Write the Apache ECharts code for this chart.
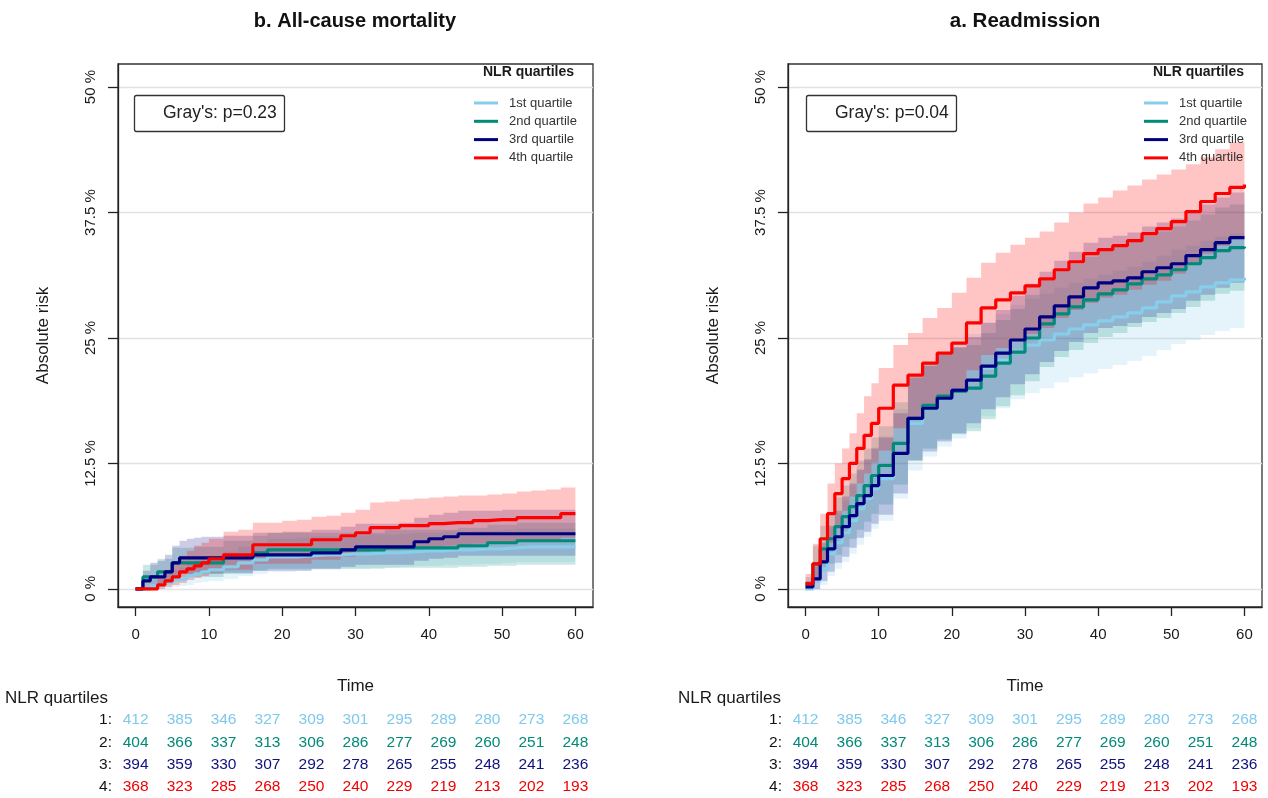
<!DOCTYPE html>
<html>
<head>
<meta charset="utf-8">
<title>NLR quartiles cumulative incidence</title>
<script src="https://cdn.jsdelivr.net/npm/echarts@6/dist/echarts.min.js"></script>
<style>
  html, body { margin: 0; padding: 0; background: #fff; }
  #chart { width: 1268px; height: 798px; }
</style>
</head>
<body>
<div id="chart"></div>
<script>
// time grid (months) shared by every curve
const T = [0, 1, 2, 3, 4, 5, 6, 7, 8, 9, 10, 12, 14, 16, 18, 20, 22, 24, 26, 28, 30, 32, 34, 36, 38, 40, 42, 44, 46, 48, 50, 52, 54, 56, 58, 60];

// b. All-cause mortality (%)
const mortQ1 = [0, 0, 0.3, 0.4, 0.6, 0.9, 1.0, 1.3, 1.5, 1.7, 1.9, 2.2, 2.6, 2.9, 3.2, 3.2, 3.3, 3.4, 3.4, 3.5, 3.5, 3.6, 3.6, 3.7, 3.8, 3.8, 3.9, 3.9, 4.0, 4.0, 4.1, 4.2, 4.2, 4.2, 4.2, 4.2];
const mortQ1Hi = [0, 0, 0.9, 1.1, 1.5, 1.9, 2.1, 2.5, 2.8, 3.0, 3.3, 3.7, 4.2, 4.6, 5.0, 5.0, 5.1, 5.2, 5.2, 5.3, 5.3, 5.4, 5.4, 5.5, 5.6, 5.6, 5.7, 5.7, 5.8, 5.8, 5.9, 6.0, 6.0, 6.0, 6.0, 6.0];
const mortQ1Lo = [0, 0, 0, 0, 0, 0.2, 0.3, 0.4, 0.6, 0.7, 0.8, 1.0, 1.3, 1.5, 1.7, 1.7, 1.8, 1.9, 1.9, 2.0, 2.0, 2.1, 2.1, 2.2, 2.3, 2.3, 2.4, 2.4, 2.5, 2.5, 2.6, 2.7, 2.7, 2.7, 2.7, 2.7];
const mortQ2 = [0, 1.2, 1.2, 1.7, 1.7, 2.6, 2.6, 2.6, 2.6, 2.6, 2.6, 3.2, 3.2, 3.6, 3.9, 3.9, 3.9, 3.9, 3.9, 3.9, 3.9, 3.9, 4.1, 4.1, 4.1, 4.1, 4.1, 4.3, 4.3, 4.6, 4.6, 4.8, 4.8, 4.8, 4.8, 4.8];
const mortQ2Hi = [0, 2.4, 2.4, 3.0, 3.0, 4.1, 4.1, 4.1, 4.2, 4.2, 4.2, 4.8, 4.8, 5.3, 5.6, 5.6, 5.6, 5.6, 5.6, 5.6, 5.6, 5.6, 5.9, 5.9, 5.9, 5.9, 5.9, 6.1, 6.1, 6.4, 6.4, 6.6, 6.6, 6.6, 6.6, 6.6];
const mortQ2Lo = [0, 0.2, 0.2, 0.6, 0.6, 1.2, 1.2, 1.2, 1.2, 1.2, 1.2, 1.5, 1.5, 1.8, 2.0, 2.0, 2.0, 2.0, 2.0, 2.0, 2.0, 2.0, 2.1, 2.1, 2.1, 2.1, 2.1, 2.2, 2.2, 2.3, 2.3, 2.4, 2.4, 2.4, 2.4, 2.4];
const mortQ3 = [0, 0.8, 1.2, 1.2, 1.7, 2.6, 3.1, 3.1, 3.1, 3.1, 3.1, 3.1, 3.1, 3.4, 3.4, 3.4, 3.4, 3.6, 3.6, 3.9, 4.2, 4.2, 4.2, 4.2, 4.7, 5.0, 5.2, 5.5, 5.5, 5.5, 5.5, 5.5, 5.5, 5.5, 5.5, 5.5];
const mortQ3Hi = [0, 1.8, 2.6, 2.8, 3.4, 4.3, 4.8, 5.0, 5.1, 5.2, 5.2, 5.3, 5.3, 5.6, 5.6, 5.7, 5.7, 5.9, 5.9, 6.2, 6.5, 6.5, 6.5, 6.6, 7.1, 7.4, 7.6, 7.8, 7.8, 7.8, 7.9, 7.9, 7.9, 7.9, 7.9, 7.9];
const mortQ3Lo = [0, 0, 0.3, 0.3, 0.6, 1.2, 1.5, 1.5, 1.5, 1.5, 1.5, 1.6, 1.6, 1.8, 1.8, 1.8, 1.8, 2.0, 2.0, 2.2, 2.4, 2.4, 2.4, 2.4, 2.8, 3.0, 3.1, 3.3, 3.3, 3.3, 3.3, 3.3, 3.3, 3.3, 3.3, 3.3];
const mortQ4 = [0, 0, 0, 0.4, 0.8, 1.2, 1.7, 2.0, 2.3, 2.6, 3.0, 3.4, 3.4, 4.4, 4.4, 4.4, 4.4, 4.9, 4.9, 5.3, 5.6, 6.1, 6.1, 6.3, 6.3, 6.5, 6.6, 6.6, 6.8, 6.9, 6.9, 7.1, 7.1, 7.1, 7.5, 7.5];
const mortQ4Hi = [0, 0, 0.3, 1.2, 1.9, 2.6, 3.3, 3.8, 4.3, 4.6, 5.0, 5.7, 5.9, 6.6, 6.6, 6.8, 6.9, 7.2, 7.3, 7.6, 7.9, 8.6, 8.7, 8.9, 9.0, 9.1, 9.2, 9.3, 9.3, 9.4, 9.5, 9.7, 9.8, 9.9, 10.1, 10.1];
const mortQ4Lo = [0, 0, 0, 0, 0.2, 0.4, 0.6, 0.9, 1.1, 1.3, 1.6, 1.9, 1.9, 2.5, 2.5, 2.5, 2.5, 2.9, 2.9, 3.2, 3.4, 3.9, 3.9, 4.0, 4.0, 4.2, 4.3, 4.3, 4.5, 4.6, 4.6, 4.7, 4.7, 4.7, 5.1, 5.1];

// a. Readmission (%)
const readQ1 = [0, 0.8, 2, 3.5, 4.6, 5.6, 6.8, 8, 9, 10, 11, 13.5, 16.5, 18, 19, 19.8, 20.8, 22, 22.8, 23.7, 24.3, 24.8, 25.4, 25.9, 26.3, 26.7, 27.1, 27.5, 28, 28.6, 29.2, 29.6, 30.1, 30.5, 30.8, 31];
const readQ1Hi = [0.3, 2.2, 4, 6, 7.5, 8.8, 10.3, 11.8, 12.9, 14.1, 15.2, 17.9, 21, 22.6, 23.6, 24.4, 25.4, 26.6, 27.4, 28.3, 28.9, 29.4, 30, 30.5, 30.9, 31.3, 31.7, 32.1, 32.6, 33.2, 33.8, 34.2, 34.7, 35.1, 35.4, 35.6];
const readQ1Lo = [0, 0, 0.4, 1.3, 2, 2.7, 3.5, 4.4, 5.2, 6, 6.8, 9, 11.8, 13.2, 14.2, 15, 16, 17.2, 18, 18.9, 19.5, 20, 20.6, 21.1, 21.5, 21.9, 22.3, 22.7, 23.2, 23.8, 24.4, 24.8, 25.3, 25.7, 26, 26.4];
const readQ2 = [0.5, 2.5, 4, 5, 6.2, 7.2, 8.2, 9.3, 10.3, 11.3, 12.3, 14.5, 17, 18.3, 19.2, 19.7, 20, 21.2, 22.5, 23.6, 25, 26.4, 27.4, 28.1, 28.8, 29.4, 29.8, 30.4, 30.9, 31.3, 31.8, 32.4, 33, 33.7, 34, 34.1];
const readQ2Hi = [1.2, 4.3, 6.3, 7.6, 9.1, 10.3, 11.5, 12.8, 14, 15.1, 16.2, 18.6, 21.2, 22.6, 23.5, 24, 24.3, 25.5, 26.8, 27.9, 29.3, 30.7, 31.7, 32.4, 33.1, 33.7, 34.1, 34.7, 35.2, 35.6, 36.1, 36.7, 37.3, 38, 38.3, 38.4];
const readQ2Lo = [0, 0.8, 1.8, 2.5, 3.4, 4.2, 5, 5.9, 6.7, 7.5, 8.4, 10.4, 12.8, 14, 14.9, 15.4, 15.7, 16.9, 18.2, 19.3, 20.7, 22.1, 23.1, 23.8, 24.5, 25.1, 25.5, 26.1, 26.6, 27, 27.5, 28.1, 28.7, 29.4, 29.7, 29.8];
const readQ3 = [0.2, 1, 2.7, 4, 5.2, 6.2, 7.3, 8.5, 9.3, 10.3, 11.3, 13.5, 17, 18, 19, 19.8, 20.8, 22.2, 23.5, 24.8, 25.9, 27.1, 28.2, 29.1, 30, 30.5, 30.7, 31, 31.6, 32, 32.4, 33.2, 33.8, 34.5, 35, 35];
const readQ3Hi = [0.8, 2.5, 4.6, 6.3, 7.8, 9.2, 10.5, 11.9, 12.9, 14, 15.1, 17.5, 21.1, 22.2, 23.3, 24.1, 25.1, 26.5, 27.8, 29.2, 30.4, 31.6, 32.7, 33.6, 34.5, 35, 35.2, 35.5, 36.1, 36.5, 36.9, 37.7, 38.3, 39, 39.5, 39.5];
const readQ3Lo = [0, 0, 0.8, 1.7, 2.6, 3.2, 4.1, 5.1, 5.7, 6.5, 7.4, 9.5, 12.8, 13.7, 14.7, 15.5, 16.5, 17.9, 19.1, 20.4, 21.4, 22.6, 23.7, 24.6, 25.5, 26, 26.2, 26.5, 27.1, 27.5, 27.9, 28.7, 29.3, 30, 30.5, 30.5];
const readQ4 = [0.5, 2.5, 5, 7.5, 9.5, 11, 12.5, 14, 15.3, 16.5, 18, 20.3, 21.3, 22.5, 23.5, 24.5, 26.5, 28, 28.8, 29.5, 30.2, 30.9, 31.8, 32.6, 33.4, 33.8, 34.2, 34.7, 35.4, 35.9, 36.6, 37.6, 38.6, 39.4, 40, 40.3];
const readQ4Hi = [1.5, 4.5, 7.5, 10.5, 12.5, 14, 15.5, 17.5, 19.2, 20.5, 22, 24.3, 25.5, 27, 28, 29.5, 31, 32.5, 33.5, 34.3, 35, 35.6, 36.5, 37.5, 38.4, 39, 39.7, 40.2, 40.8, 41.3, 41.8, 42.3, 43, 43.8, 44.5, 45.2];
const readQ4Lo = [0, 1, 2.8, 4.6, 6.3, 7.8, 9.2, 10.5, 11.5, 12.6, 13.8, 16, 17, 18, 19.1, 20, 21.8, 23.3, 24, 24.7, 25.4, 26, 27, 27.8, 28.5, 29, 29.3, 29.8, 30.3, 30.7, 31.4, 32.4, 33.4, 34.2, 35, 35.4];

// numbers at risk
const tableTimes = [0, 6, 12, 18, 24, 30, 36, 42, 48, 54, 60];
const riskQ1 = [412, 385, 346, 327, 309, 301, 295, 289, 280, 273, 268];
const riskQ2 = [404, 366, 337, 313, 306, 286, 277, 269, 260, 251, 248];
const riskQ3 = [394, 359, 330, 307, 292, 278, 265, 255, 248, 241, 236];
const riskQ4 = [368, 323, 285, 268, 250, 240, 229, 219, 213, 202, 193];
const rowLabels = ['1:', '2:', '3:', '4:'];

const xTicks = [0, 10, 20, 30, 40, 50, 60];
const yTicks = [0, 12.5, 25, 37.5, 50];

const quartileNames = ['1st quartile', '2nd quartile', '3rd quartile', '4th quartile'];
const quartileColors = ['#87CEEB', '#008B7A', '#000080', '#FF0000'];
const bandColors = ['rgba(135,206,235,0.22)', 'rgba(0,139,122,0.2)', 'rgba(0,0,128,0.2)', 'rgba(255,0,0,0.23)'];
const tableColors = ['#7fc9ea', '#008a78', '#10107e', '#f00000'];
const FONT = '"Liberation Sans", Arial, sans-serif';

const panels = [
  { est: [mortQ1, mortQ2, mortQ3, mortQ4], lo: [mortQ1Lo, mortQ2Lo, mortQ3Lo, mortQ4Lo], hi: [mortQ1Hi, mortQ2Hi, mortQ3Hi, mortQ4Hi] },
  { est: [readQ1, readQ2, readQ3, readQ4], lo: [readQ1Lo, readQ2Lo, readQ3Lo, readQ4Lo], hi: [readQ1Hi, readQ2Hi, readQ3Hi, readQ4Hi] }
];
const riskRows = [riskQ1, riskQ2, riskQ3, riskQ4];

const pairs = ys => T.map((t, i) => [t, ys[i]]);

// stepped confidence band as one polygon, placed through the axis scales
function bandSeries(g, lo, hi, fill) {
  return {
    type: 'custom', coordinateSystem: 'cartesian2d', xAxisIndex: g, yAxisIndex: g,
    silent: true, z: 1, data: [[0, 0]],
    renderItem: (params, api) => {
      const n = T.length;
      const pts = [];
      for (let i = 0; i < n; i++) {
        pts.push(api.coord([T[i], hi[i]]));
        if (i < n - 1) pts.push(api.coord([T[i + 1], hi[i]]));
      }
      for (let i = n - 1; i >= 0; i--) {
        if (i < n - 1) pts.push(api.coord([T[i + 1], lo[i]]));
        pts.push(api.coord([T[i], lo[i]]));
      }
      return { type: 'polygon', shape: { points: pts }, style: { fill: fill, stroke: null } };
    }
  };
}

const series = [];
panels.forEach((p, g) => {
  for (let q = 0; q < 4; q++) series.push(bandSeries(g, p.lo[q], p.hi[q], bandColors[q]));
  for (let q = 0; q < 4; q++) {
    series.push({
      name: quartileNames[q], type: 'line', xAxisIndex: g, yAxisIndex: g, step: 'end',
      data: pairs(p.est[q]), symbol: 'none',
      lineStyle: { color: quartileColors[q], width: 3.2 },
      itemStyle: { color: quartileColors[q] }, z: 3 + q
    });
  }
  // numbers at risk table
  riskRows.forEach((row, r) => {
    series.push({
      type: 'scatter', xAxisIndex: 2 + g, yAxisIndex: 2 + g, symbolSize: 1,
      itemStyle: { color: 'transparent' }, silent: true,
      data: tableTimes.map((t, i) => [t, rowLabels[r], row[i]]),
      label: {
        show: true, position: 'inside', formatter: d => d.value[2],
        color: tableColors[r], fontSize: 15.5, fontFamily: FONT, textBorderWidth: 0, opacity: 1
      }
    });
  });
});

const plotX = g => ({
  gridIndex: g, type: 'value', min: -2.4, max: 62.4,
  axisLine: { show: true, onZero: false, lineStyle: { color: '#222', width: 1.3 } },
  axisTick: { show: true, length: 9, customValues: xTicks, lineStyle: { color: '#222', width: 1.3 } },
  axisLabel: { customValues: xTicks, margin: 20, fontSize: 15, color: '#1a1a1a', fontFamily: FONT },
  splitLine: { show: false },
  name: 'Time', nameLocation: 'middle', nameGap: 71,
  nameTextStyle: { fontSize: 17, color: '#1a1a1a', fontFamily: FONT }
});
const plotY = g => ({
  gridIndex: g, type: 'value', min: -1.8, max: 52.3,
  axisLine: { show: true, onZero: false, lineStyle: { color: '#222', width: 1.3 } },
  axisTick: { show: true, length: 10, customValues: yTicks, lineStyle: { color: '#222', width: 1.3 } },
  axisLabel: { customValues: yTicks, rotate: 90, margin: 20, fontSize: 15, color: '#1a1a1a', fontFamily: FONT, formatter: v => v + ' %' },
  splitLine: { show: true, lineStyle: { color: '#e2e2e2', width: 1.3 } },
  name: 'Absolute risk', nameLocation: 'middle', nameGap: 66, nameRotate: 90,
  nameTextStyle: { fontSize: 17, color: '#1a1a1a', fontFamily: FONT }
});
const tableX = g => ({ gridIndex: g, type: 'value', min: -2.4, max: 62.4, show: false });
const tableY = g => ({
  gridIndex: g, type: 'category', data: rowLabels, inverse: true,
  axisLine: { show: false }, axisTick: { show: false }, splitLine: { show: false },
  axisLabel: { fontSize: 15.5, color: '#111', margin: 6, fontFamily: FONT }
});

const grayBox = (text, left) => ({
  text, left, top: 96, padding: [9, 8, 9, 29], borderColor: '#333', borderWidth: 1.3, borderRadius: 2,
  textStyle: { fontSize: 17.5, lineHeight: 17, fontWeight: 'normal', color: '#222', fontFamily: FONT }
});
const plainTitle = (text, left, top, size, weight) => ({
  text, left, top, padding: 0,
  textStyle: { fontSize: size, fontWeight: weight, color: '#1a1a1a', fontFamily: FONT }
});
const legendAt = left => ({
  left, top: 96, orient: 'vertical', icon: 'rect', itemWidth: 24, itemHeight: 3, itemGap: 4.3,
  padding: 0, selectedMode: false, data: quartileNames,
  textStyle: { fontSize: 13, lineHeight: 14, color: '#333', fontFamily: FONT, padding: [0, 0, 0, 6] }
});

const chart = echarts.init(document.getElementById('chart'));
chart.setOption({
  animation: false,
  backgroundColor: '#fff',
  textStyle: { fontFamily: FONT },
  title: [
    { text: 'b. All-cause mortality', left: 355, top: 11, padding: 0, textAlign: 'center',
      textStyle: { fontSize: 20, fontWeight: 'bold', color: '#111', fontFamily: FONT } },
    { text: 'a. Readmission', left: 1025, top: 11, padding: 0, textAlign: 'center',
      textStyle: { fontSize: 20.5, fontWeight: 'bold', color: '#111', fontFamily: FONT } },
    grayBox("Gray's: p=0.23", 134),
    grayBox("Gray's: p=0.04", 806),
    plainTitle('NLR quartiles', 483, 65, 14, 'bold'),
    plainTitle('NLR quartiles', 1153, 65, 14, 'bold'),
    plainTitle('NLR quartiles', 5, 690, 17, 'normal'),
    plainTitle('NLR quartiles', 678, 690, 17, 'normal')
  ],
  legend: [legendAt(474), legendAt(1144)],
  grid: [
    { left: 118, top: 64, width: 475, height: 543, show: true, borderColor: '#333', borderWidth: 1.3, backgroundColor: 'transparent' },
    { left: 788, top: 64, width: 474, height: 543, show: true, borderColor: '#333', borderWidth: 1.3, backgroundColor: 'transparent' },
    { left: 118, top: 709, width: 475, height: 91 },
    { left: 788, top: 709, width: 474, height: 91 }
  ],
  xAxis: [plotX(0), plotX(1), tableX(2), tableX(3)],
  yAxis: [plotY(0), plotY(1), tableY(2), tableY(3)],
  series
});
</script>
</body>
</html>
